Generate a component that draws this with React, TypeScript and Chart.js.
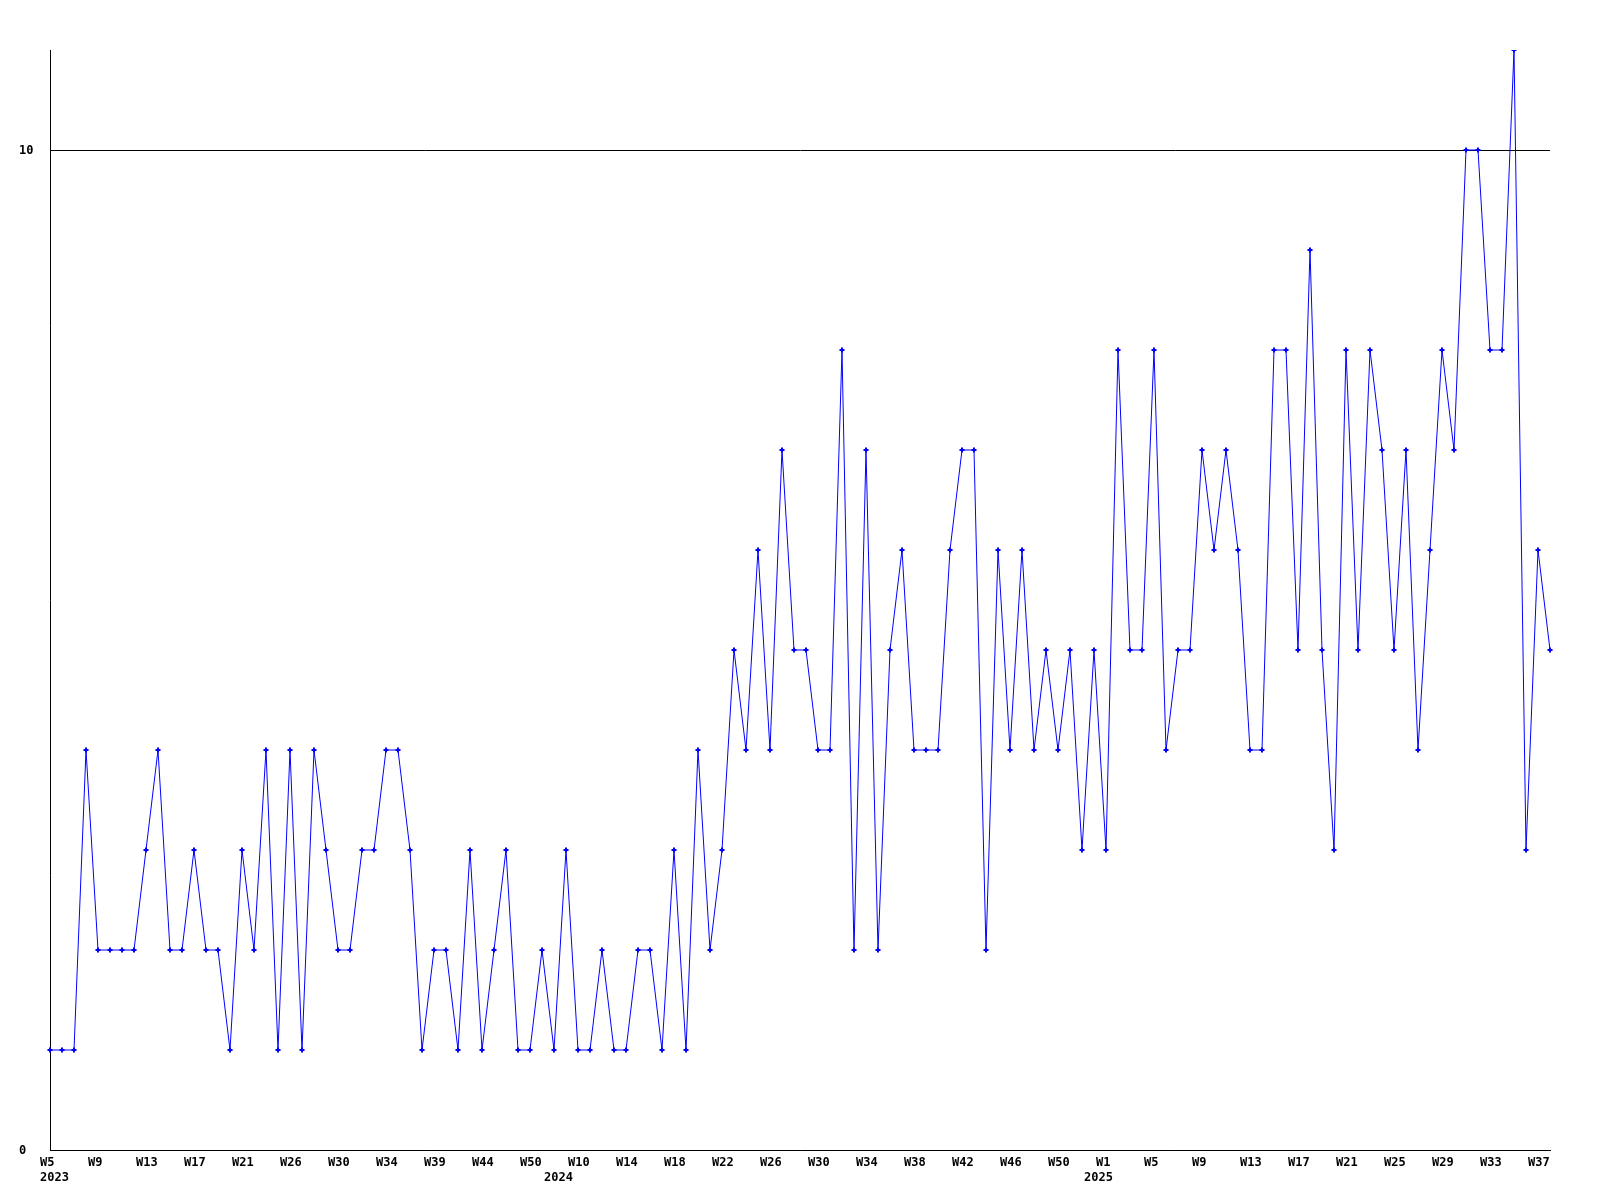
import React, { useEffect, useRef } from "react";
import { Chart, registerables } from "chart.js";

Chart.register(...registerables);

// Week of each point (one point per reported week)
const weekLabels: string[] = [
  // 2023
  "W5", "W6", "W7", "W8", "W9", "W10", "W11", "W12", "W13", "W14",
  "W15", "W16", "W17", "W18", "W19", "W20", "W21", "W22", "W23", "W24",
  "W26", "W27", "W28", "W29", "W30", "W31", "W32", "W33", "W34", "W35",
  "W36", "W37", "W39", "W40", "W41", "W43", "W44", "W45", "W46", "W48",
  "W50", "W51",
  // 2024
  "W0", "W5", "W10", "W11", "W12", "W13", "W14", "W15", "W16", "W17",
  "W18", "W19", "W20", "W21", "W22", "W23", "W24", "W25", "W26", "W27",
  "W28", "W29", "W30", "W31", "W32", "W33", "W34", "W35", "W36", "W37",
  "W38", "W39", "W40", "W41", "W42", "W43", "W44", "W45", "W46", "W47",
  "W48", "W49", "W50", "W51", "W52",
  // 2025
  "W0", "W1", "W2", "W3", "W4", "W5", "W6", "W7", "W8", "W9",
  "W10", "W11", "W12", "W13", "W14", "W15", "W16", "W17", "W18", "W19",
  "W20", "W21", "W22", "W23", "W24", "W25", "W26", "W27", "W28", "W29",
  "W30", "W31", "W32", "W33", "W34", "W35", "W36", "W37", "W38",
];

const counts: number[] = [
  1, 1, 1, 4, 2, 2, 2, 2, 3, 4,
  2, 2, 3, 2, 2, 1, 3, 2, 4, 1,
  4, 1, 4, 3, 2, 2, 3, 3, 4, 4,
  3, 1, 2, 2, 1, 3, 1, 2, 3, 1,
  1, 2, 1, 3, 1, 1, 2, 1, 1, 2,
  2, 1, 3, 1, 4, 2, 3, 5, 4, 6,
  4, 7, 5, 5, 4, 4, 8, 2, 7, 2,
  5, 6, 4, 4, 4, 6, 7, 7, 2, 6,
  4, 6, 4, 5, 4, 5, 3, 5, 3, 8,
  5, 5, 8, 4, 5, 5, 7, 6, 7, 6,
  4, 4, 8, 8, 5, 9, 5, 3, 8, 5,
  8, 7, 5, 7, 4, 6, 8, 7, 10, 10,
  8, 8, 11, 3, 6, 5,
];

const yearMarkIndex: number[] = [0, 42, 87];
const yearMarkText: string[] = ["2023", "2024", "2025"];
const yTickValues: number[] = [0, 10];
const labelEvery = 4;

const FONT = { family: "'DejaVu Sans Mono', monospace", size: 12, weight: "bold" as const, lineHeight: 1.25 };

export default function App() {
  const ref = useRef<HTMLCanvasElement | null>(null);

  useEffect(() => {
    if (!ref.current) return;
    const chart = new Chart(ref.current, {
      type: "line",
      data: {
        labels: weekLabels,
        datasets: [
          {
            data: counts,
            borderColor: "#0000ff",
            backgroundColor: "#0000ff",
            borderWidth: 1,
            tension: 0,
            pointStyle: "cross",
            pointRadius: 2.5,
            pointBorderWidth: 2,
            pointBorderColor: "#0000ff",
            fill: false,
          },
        ],
      },
      options: {
        responsive: false,
        animation: false,
        devicePixelRatio: 1,
        layout: { padding: { left: 19, top: 50, right: 50, bottom: 0 } },
        plugins: {
          legend: { display: false },
          tooltip: { enabled: false },
          title: { display: false },
        },
        scales: {
          x: {
            type: "category",
            offset: false,
            grid: { display: false, drawTicks: false },
            border: { display: true, color: "#000000", width: 1 },
            ticks: {
              autoSkip: false,
              maxRotation: 0,
              minRotation: 0,
              align: "start",
              labelOffset: -10,
              padding: 5,
              color: "#000000",
              font: FONT,
              callback: (_v: any, idx: number) => {
                const wk = idx % labelEvery === 0 ? weekLabels[idx] : "";
                const yi = yearMarkIndex.indexOf(idx);
                if (yi >= 0) return [wk, yearMarkText[yi]];
                return wk;
              },
            },
            afterFit: (scale: any) => {
              scale.height = 50;
            },
          },
          y: {
            min: 0,
            max: 11,
            grid: { display: true, color: "#000000", lineWidth: 1, drawTicks: false },
            border: { display: true, color: "#000000", width: 1 },
            ticks: {
              crossAlign: "far",
              padding: 0,
              labelOffset: 1,
              color: "#000000",
              font: FONT,
            },
            afterBuildTicks: (scale: any) => {
              scale.ticks = yTickValues.map((v) => ({ value: v }));
            },
            afterFit: (scale: any) => {
              scale.width = 31;
            },
          },
        },
      },
    });
    return () => chart.destroy();
  }, []);

  return (
    <canvas
      ref={ref}
      width={1600}
      height={1200}
      style={{ position: "absolute", left: 0, top: 0, width: 1600, height: 1200, display: "block" }}
    />
  );
}
